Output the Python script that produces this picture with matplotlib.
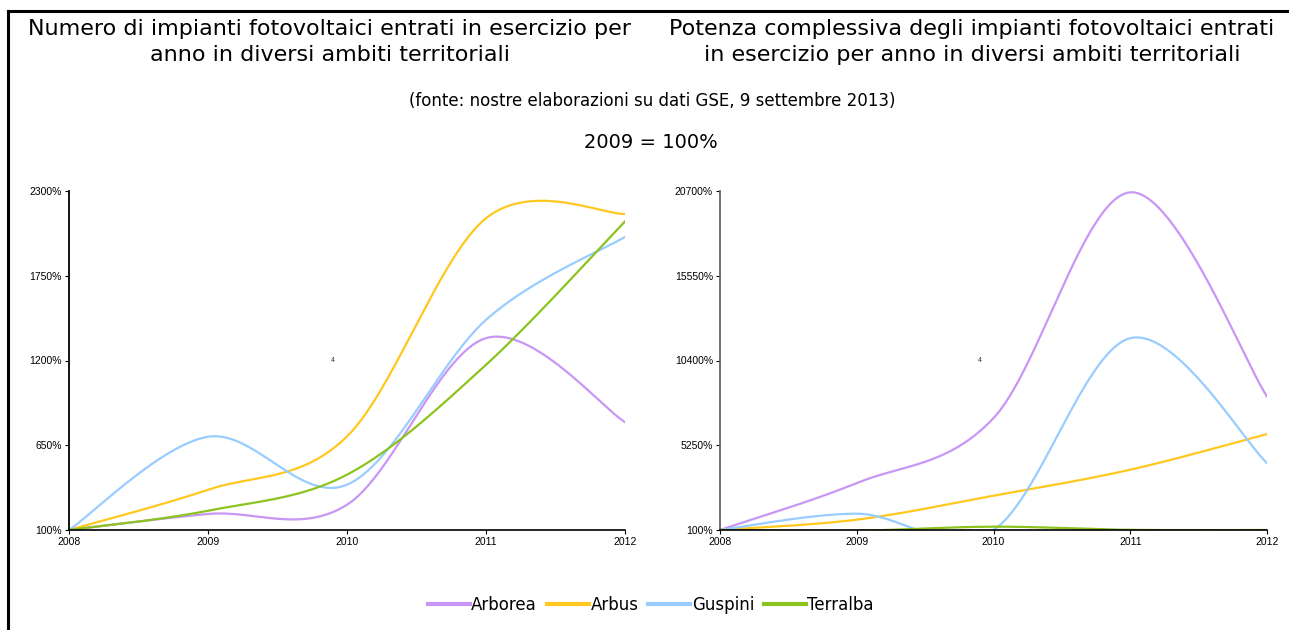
import numpy as np
import matplotlib.pyplot as plt
from matplotlib.lines import Line2D

# anni e serie (2008 = base)
anni = [2008, 2009, 2010, 2011, 2012]
comuni = ['Arborea', 'Arbus', 'Guspini', 'Terralba']
colori = ['#C896F5', '#FFC81E', '#99CCFF', '#8CC31E']

# numero di impianti (%)
numero_arborea = [100, 204, 264, 1345, 800]
numero_arbus = [100, 361, 707, 2123, 2151]
numero_guspini = [100, 705, 394, 1464, 2002]
numero_terralba = [100, 225, 459, 1172, 2103]

# potenza complessiva (%)
potenza_arborea = [100, 2953, 6899, 20619, 8215]
potenza_arbus = [100, 727, 2184, 3763, 5928]
potenza_guspini = [100, 1092, 100, 11757, 4168]
potenza_terralba = [100, 60, 302, 110, 100]

yticks_numero = [100, 650, 1200, 1750, 2300]
yticks_potenza = [100, 5250, 10400, 15550, 20700]

FONT = 'DejaVu Sans'
TICKFONT = 'Liberation Sans'


def smooth(xs, ys, n=60):
    # curva liscia tipo Excel: bezier cubiche con tangenti catmull-rom
    pts = np.column_stack([xs, ys]).astype(float)
    out = []
    for i in range(len(pts) - 1):
        p0 = pts[max(i - 1, 0)]
        p1 = pts[i]
        p2 = pts[i + 1]
        p3 = pts[min(i + 2, len(pts) - 1)]
        c1 = p1 + (p2 - p0) / 6
        c2 = p2 - (p3 - p1) / 6
        t = np.linspace(0, 1, n)[:, None]
        seg = (1 - t)**3 * p1 + 3 * (1 - t)**2 * t * c1 + 3 * (1 - t) * t**2 * c2 + t**3 * p2
        out.append(seg if i == 0 else seg[1:])
    s = np.vstack(out)
    return s[:, 0], s[:, 1]


def draw_panel(ax, series, yticks, spine_color):
    for vals, col, nome in zip(series, colori, comuni):
        sx, sy = smooth(anni, vals)
        ax.plot(sx, sy, color=col, lw=1.6, label=nome)
    ax.set_xlim(anni[0], anni[-1])
    ax.set_ylim(yticks[0], yticks[-1])
    ax.set_xticks(anni)
    ax.set_yticks(yticks)
    ax.set_yticklabels([f'{v}%' for v in yticks])
    for s in ['top', 'right']:
        ax.spines[s].set_visible(False)
    ax.spines['left'].set_color(spine_color)
    ax.spines['bottom'].set_color('black')
    ax.spines['left'].set_linewidth(1.3)
    ax.spines['bottom'].set_linewidth(1.2)
    ax.tick_params(axis='both', length=3, width=0.8, labelsize=7.5, pad=2)
    for lab in ax.get_xticklabels() + ax.get_yticklabels():
        lab.set_family(TICKFONT)
    ax.patch.set_alpha(0)
    ax.text(0.475, 0.5, '4', transform=ax.transAxes, fontsize=5,
            ha='center', va='center', color='#333333', family=TICKFONT)


fig = plt.figure(figsize=(12.89, 6.3), dpi=100)

ax1 = fig.add_axes([69 / 1289, 1 - 530 / 630, 556 / 1289, 339 / 630])
ax2 = fig.add_axes([720 / 1289, 1 - 530 / 630, 547 / 1289, 339 / 630])

draw_panel(ax1, [numero_arborea, numero_arbus, numero_guspini, numero_terralba],
           yticks_numero, 'black')
draw_panel(ax2, [potenza_arborea, potenza_arbus, potenza_guspini, potenza_terralba],
           yticks_potenza, '#666666')

fig.text(330 / 1289, 1 - 42 / 630,
         'Numero di impianti fotovoltaici entrati in esercizio per\nanno in diversi ambiti territoriali',
         ha='center', va='center', fontsize=16, family=FONT, linespacing=1.35)
fig.text(972 / 1289, 1 - 42 / 630,
         'Potenza complessiva degli impianti fotovoltaici entrati\nin esercizio per anno in diversi ambiti territoriali',
         ha='center', va='center', fontsize=16, family=FONT, linespacing=1.35)
fig.text(652 / 1289, 1 - 101 / 630,
         '(fonte: nostre elaborazioni su dati GSE, 9 settembre 2013)',
         ha='center', va='center', fontsize=12, family=FONT)
fig.text(651 / 1289, 1 - 142 / 630, '2009 = 100%',
         ha='center', va='center', fontsize=14, family=FONT)

handles = [Line2D([], [], color=c, lw=3) for c in colori]
fig.legend(handles, comuni, loc='center', bbox_to_anchor=(651 / 1289, 1 - 605 / 630),
           ncol=4, frameon=False, handlelength=2.5, handletextpad=0.1,
           columnspacing=0.6, prop={'family': FONT, 'size': 12})

# cornice nera in alto e a sinistra
fig.add_artist(Line2D([8 / 1289, 1], [1 - 11 / 630, 1 - 11 / 630], color='black', lw=2.2))
fig.add_artist(Line2D([8 / 1289, 8 / 1289], [0, 1 - 11 / 630], color='black', lw=2.2))

fig.savefig('out.png', dpi=100)
